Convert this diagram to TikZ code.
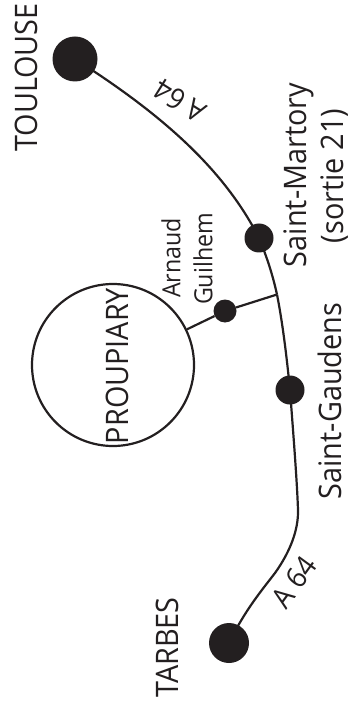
\documentclass[tikz,border=0pt]{standalone}
\usepackage{fontspec}
\setmainfont[FakeStretch=0.93]{Open Sans}
\definecolor{ink}{HTML}{231F20}
\tikzset{
  road/.style={draw=ink,line width=2.2pt},
  town/.style={circle,fill=ink,inner sep=0pt},
  lab/.style={text=ink,inner sep=0pt,rotate=90,anchor=center,align=center},
  big/.style={font=\fontsize{31}{33}\selectfont},
  small/.style={font=\fontsize{25}{27}\selectfont},
  hw/.style={text=ink,inner sep=0pt,font=\fontsize{29}{31}\selectfont}
}
\begin{document}
\begin{tikzpicture}[x=1pt,y=-1pt]
\useasboundingbox (0,0) rectangle (349,708);
\coordinate (junction) at (277,294.5);
\node[draw=ink,line width=2.2pt,circle,minimum size=162pt,inner sep=0pt] (propiary) at (113,365) {};
\draw[road] (75,59) .. controls (155,110) and (222,165) .. (259,238);
\draw[road] (259,238) .. controls (266,255) and (272,272) .. (junction);
\draw[road] (junction) .. controls (283,325) and (287,360) .. (290,390);
\draw[road] (290,390) .. controls (293,430) and (297,480) .. (298,510)
  .. controls (298.5,530) and (290,552) .. (275,573)
  .. controls (262,590) and (245,610) .. (229,643);
\node[town,minimum size=45pt] (toulouse) at (75,59) {};
\node[town,minimum size=29pt] (martory) at (259,238) {};
\node[town,minimum size=29pt] (gaudens) at (290,390) {};
\node[town,minimum size=40pt] (tarbes) at (229,643) {};
\node[town,minimum size=23pt] (arnaud) at (225,311) {};
\draw[road] (propiary) -- (arnaud);
\draw[road] (arnaud) -- (junction);
\node[lab,big] (ltoulouse) at (26,77.5) {TOULOUSE};
\node[lab,big] (ltarbes) at (167.5,647.5) {TARBES};
\node[lab,big] (lmartory) at (299,175) {Saint-Martory};
\node[lab,big] (lsortie) at (335,176) {(sortie 21)};
\node[lab,big] (lgaudens) at (330,401) {Saint-Gaudens};
\node[lab,big] (lpropiary) at (117,366) {PROUPIARY};
\node[lab,small] (larnaud) at (171,258) {Arnaud};
\node[lab,small] (lguilhem) at (203,259) {Guilhem};
\node[hw,rotate=148] (a1) at (180,101) {A 64};
\node[hw,rotate=54] (a2) at (294,582) {A 64};
\end{tikzpicture}
\end{document}
